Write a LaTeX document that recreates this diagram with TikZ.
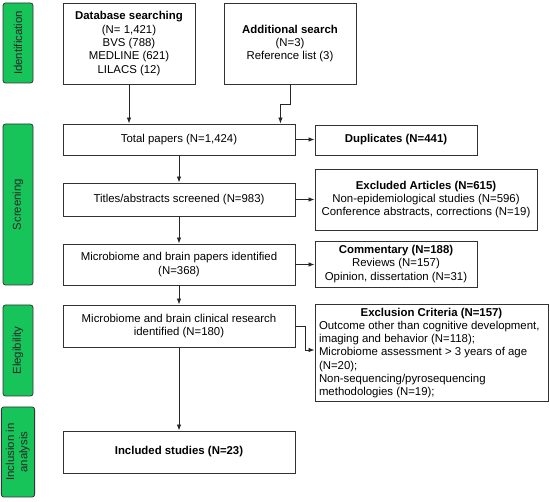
\documentclass[tikz,border=0pt]{standalone}
\usepackage{fontspec}
\setmainfont{Liberation Sans}
\usetikzlibrary{arrows.meta}
\definecolor{stagegreen}{RGB}{22,196,90}
\definecolor{boxline}{RGB}{50,50,50}
\tikzset{
  box/.style={draw=boxline, line width=0.9pt, fill=white, align=center, inner sep=2pt, font=\fontsize{11.4}{13.3}\selectfont},
  stage/.style={draw=black!80, line width=0.8pt, fill=stagegreen, rounded corners=2.5pt, minimum width=30pt, font=\fontsize{11.4}{13.3}\selectfont, text=black!85, align=center},
  arr/.style={draw=black!85, line width=0.8pt, -{Latex[length=6pt,width=4.5pt]}}
}
\begin{document}
\begin{tikzpicture}[x=1pt,y=-1pt]
\useasboundingbox (0,0) rectangle (550,502);
% stages
\node[stage, minimum height=80pt] (s1) at (18,43) {\rotatebox{90}{Identification}};
\node[stage, minimum height=161pt] (s2) at (18,204.5) {\rotatebox{90}{Screening}};
\node[stage, minimum height=91pt] (s3) at (18,350.5) {\rotatebox{90}{Elegibility}};
\node[stage, minimum height=90pt] (s4) at (18,452) {\rotatebox{90}{\begin{tabular}{@{}c@{}}Inclusion in\\analysis\end{tabular}}};
% boxes
\node[box, minimum width=132pt, minimum height=81pt] (db) at (129,43.5)
  {\textbf{Database searching}\\(N= 1,421)\\BVS (788)\\MEDLINE (621)\\LILACS (12)};
\node[box, minimum width=132pt, minimum height=81pt] (add) at (290,43.5)
  {\textbf{Additional search}\\(N=3)\\Reference list (3)};
\node[box, minimum width=232pt, minimum height=31pt] (tot) at (179,139.5) {Total papers (N=1,424)};
\node[box, minimum width=162pt, minimum height=30pt] (dup) at (396,140) {\textbf{Duplicates (N=441)}};
\node[box, minimum width=232pt, minimum height=33pt] (tit) at (179,199.5) {Titles/abstracts screened (N=983)};
\node[box, minimum width=222pt, minimum height=61pt] (exa) at (426,199.5)
  {\textbf{Excluded Articles (N=615)}\\Non-epidemiological studies (N=596)\\Conference abstracts, corrections (N=19)};
\node[box, minimum width=232pt, minimum height=41pt] (mbp) at (179,264.5) {Microbiome and brain papers identified\\(N=368)};
\node[box, minimum width=162pt, minimum height=46pt] (com) at (396,264)
  {\textbf{Commentary (N=188)}\\Reviews (N=157)\\Opinion, dissertation (N=31)};
\node[box, minimum width=232pt, minimum height=42pt] (cli) at (179,326) {Microbiome and brain clinical research\\identified (N=180)};
\node[box, minimum width=233pt, minimum height=96pt, align=left, inner sep=3pt] (exc) at (431.5,353)
  {\makebox[225pt][c]{\textbf{Exclusion Criteria (N=157)}}\\Outcome other than cognitive development,\\imaging and behavior (N=118);\\Microbiome assessment > 3 years of age\\(N=20);\\Non-sequencing/pyrosequencing\\methodologies (N=19);};
\node[box, minimum width=232pt, minimum height=42pt] (inc) at (179,452) {\textbf{Included studies (N=23)}};
% connectors
\draw[arr] (db.south) -- (db.south |- tot.north);
\draw[arr] (add.south) -- ++(0,20) -| ([xshift=-15pt]tot.north east);
\draw[arr] (tot.east) -- (dup.west |- tot.east);
\draw[arr] (tot.south) -- (tit.north);
\draw[arr] (tit.east) -- (exa.west |- tit.east);
\draw[arr] (tit.south) -- (mbp.north);
\draw[arr] (mbp.east) -- (com.west |- mbp.east);
\draw[arr] (mbp.south) -- (cli.north);
\coordinate (bend) at (305,326);
\draw[arr] (cli.east) -- (bend) -- (bend |- 0,350) -- (exc.west |- 0,350);
\draw[arr] (cli.south) -- (inc.north);
\end{tikzpicture}
\end{document}
